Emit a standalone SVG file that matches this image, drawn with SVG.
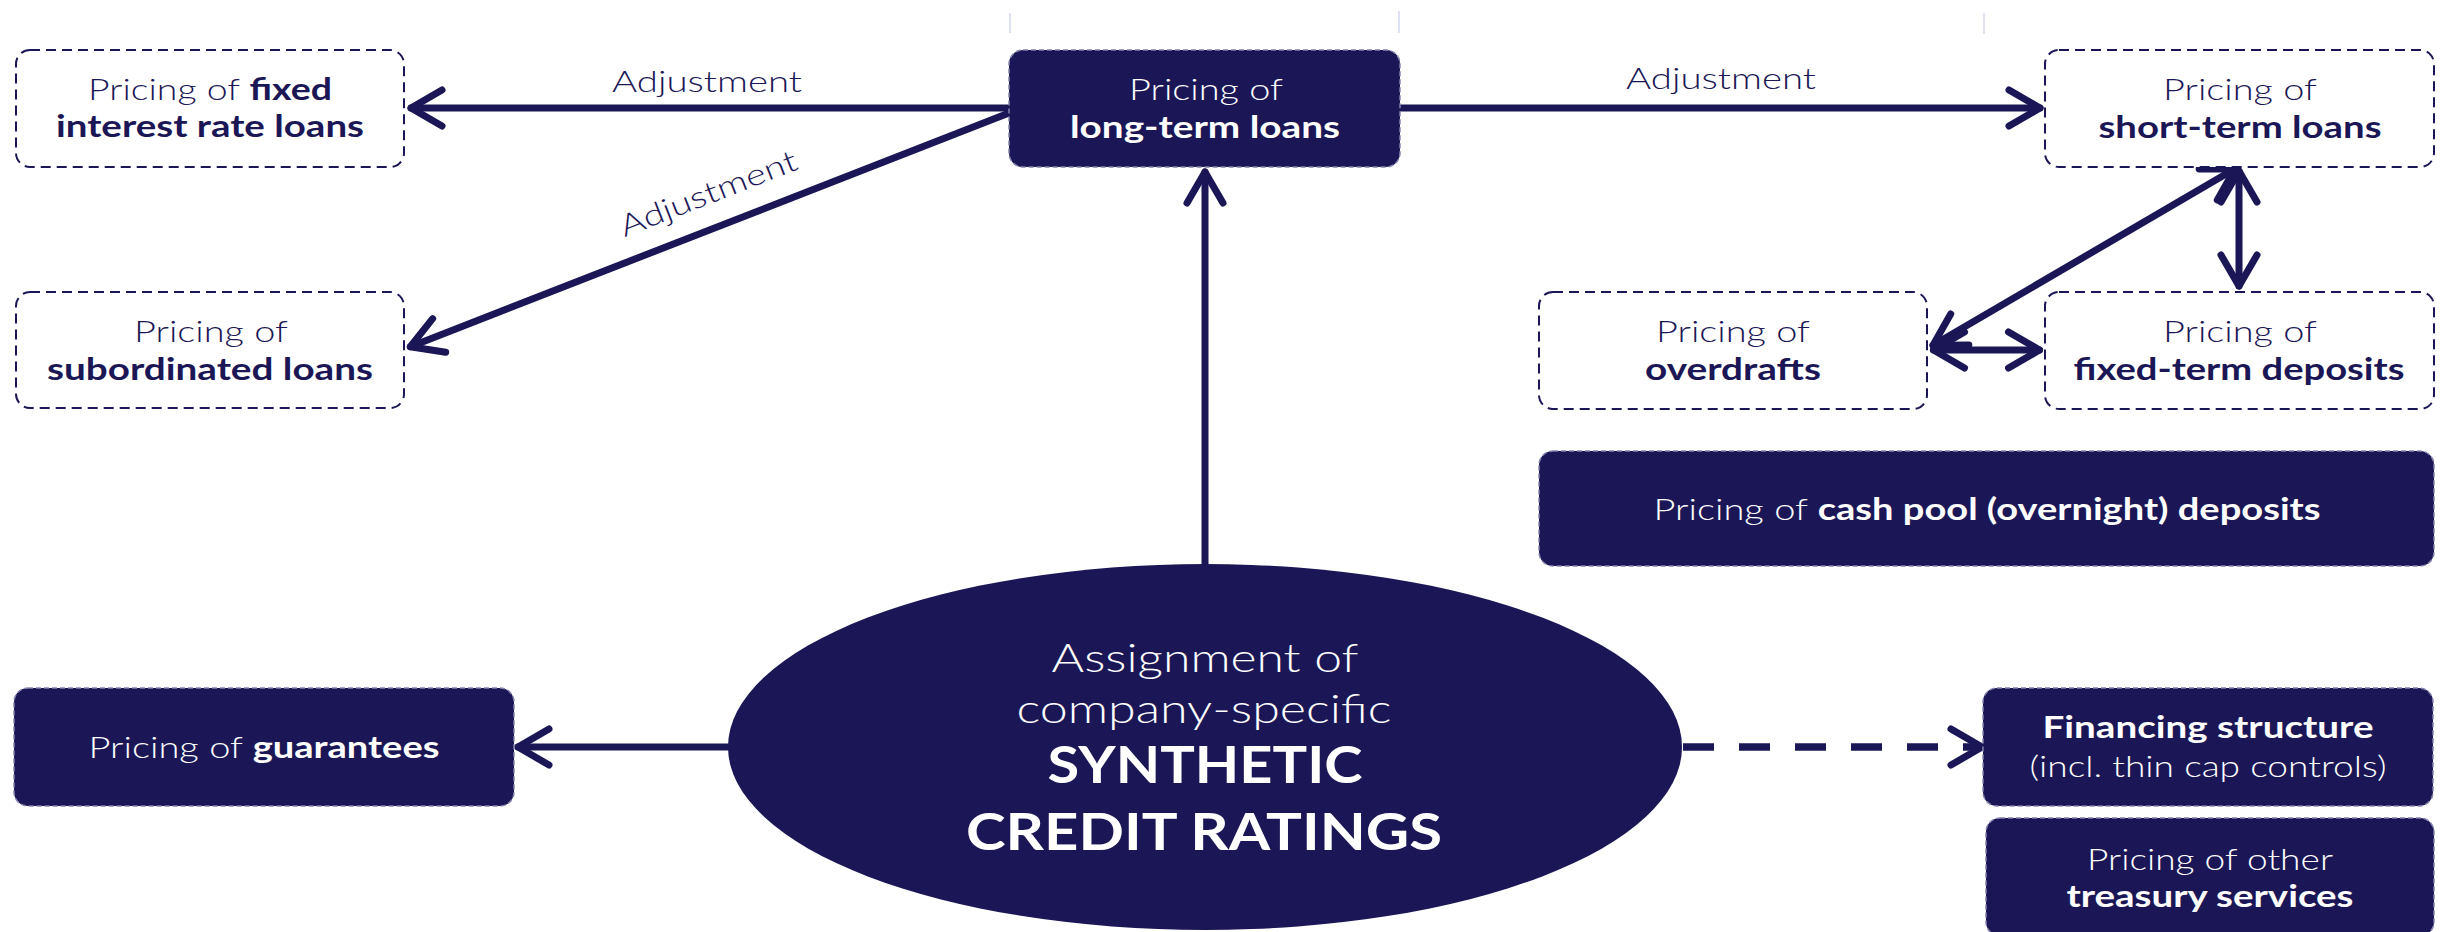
<svg xmlns="http://www.w3.org/2000/svg" width="2445" height="932" viewBox="0 0 2445 932">
  <style>
    .bg { fill: #ffffff; }
    .box-outline { fill: #ffffff; stroke: #1b1756; stroke-width: 2; stroke-dasharray: 10 6; }
    .box-filled { fill: #1b1756; stroke: #8584ad; stroke-width: 1.5; stroke-dasharray: 5 3; }
    .hub { fill: #1b1756; }
    .tick { stroke: #c9cfe9; stroke-width: 1.2; }
    .link { fill: none; stroke: #1b1756; stroke-width: 7; stroke-linecap: round; }
    .link-dash { fill: none; stroke: #1b1756; stroke-width: 7.5; stroke-dasharray: 31 25; stroke-linecap: butt; }
    .head { fill: none; stroke: #1b1756; stroke-width: 7; stroke-linecap: round; stroke-linejoin: round; }
    text { font-family: Lato, "Open Sans", "Liberation Sans", sans-serif; font-size: 30px; text-anchor: middle; }
    .dark { fill: #1b1756; }
    .light { fill: #ffffff; }
    .l { font-weight: 300; }
    .b { font-weight: 700; }
    .hub-sm { font-size: 39px; }
    .hub-lg { font-size: 52px; }
  </style>
  <defs>
    <marker id="chev" markerUnits="userSpaceOnUse" orient="auto-start-reverse" refX="0" refY="0" markerWidth="80" markerHeight="80" viewBox="-40 -40 80 80" overflow="visible">
      <path class="head" d="M-31,-18 L0,0 L-31,18"/>
    </marker>
  </defs>

  <rect class="bg" x="0" y="0" width="2445" height="932"/>

  <!-- faint guide ticks along the top edge -->
  <g id="guides">
    <line class="tick" x1="1010" y1="13" x2="1010" y2="33"/>
    <line class="tick" x1="1399" y1="11" x2="1399" y2="33"/>
    <line class="tick" x1="1984" y1="13" x2="1984" y2="34"/>
  </g>

  <!-- connectors -->
  <g id="connectors">
    <path class="link" d="M1009,108 L411,108" marker-end="url(#chev)"/>
    <path class="link" d="M1009,113 L410.3,346.7" marker-end="url(#chev)"/>
    <path class="link" d="M1400,108 L2040,108" marker-end="url(#chev)"/>
    <path class="link" d="M1205,564 L1205,172" marker-end="url(#chev)"/>
    <path class="link" d="M2239,171 L2239,286" marker-start="url(#chev)" marker-end="url(#chev)"/>
    <path class="link" d="M2235,168.8 L1933,345.2" marker-start="url(#chev)" marker-end="url(#chev)"/>
    <path class="link" d="M1933.5,350 L2039.5,350" marker-start="url(#chev)" marker-end="url(#chev)"/>
    <path class="link" d="M729,747 L518,747" marker-end="url(#chev)"/>
    <path class="link-dash" d="M1683,747 L1978,747"/>
    <path class="head" d="M1951,729 L1982,747 L1951,765"/>
    <text class="dark l" x="707" y="92" textLength="190" lengthAdjust="spacingAndGlyphs">Adjustment</text>
    <text class="dark l" x="1721" y="89" textLength="190" lengthAdjust="spacingAndGlyphs">Adjustment</text>
    <text class="dark l" transform="translate(712,203) rotate(-21.3)" x="0" y="0" textLength="188" lengthAdjust="spacingAndGlyphs">Adjustment</text>
  </g>

  <g id="fixed-rate-loans">
    <rect class="box-outline" x="16" y="50" width="388" height="117" rx="14"/>
    <text class="dark" x="210" y="100" textLength="244" lengthAdjust="spacingAndGlyphs"><tspan class="l">Pricing of </tspan><tspan class="b">fixed</tspan></text>
    <text class="dark b" x="210" y="137" textLength="308" lengthAdjust="spacingAndGlyphs">interest rate loans</text>
  </g>

  <g id="subordinated-loans">
    <rect class="box-outline" x="16" y="292" width="388" height="116" rx="14"/>
    <text class="dark l" x="211" y="342" textLength="154" lengthAdjust="spacingAndGlyphs">Pricing of</text>
    <text class="dark b" x="210" y="380" textLength="326" lengthAdjust="spacingAndGlyphs">subordinated loans</text>
  </g>

  <g id="long-term-loans">
    <rect class="box-filled" x="1009" y="50" width="391" height="117" rx="14"/>
    <text class="light l" x="1206" y="100" textLength="154" lengthAdjust="spacingAndGlyphs">Pricing of</text>
    <text class="light b" x="1205" y="138" textLength="270" lengthAdjust="spacingAndGlyphs">long-term loans</text>
  </g>

  <g id="short-term-loans">
    <rect class="box-outline" x="2045" y="50" width="389" height="117" rx="14"/>
    <text class="dark l" x="2240" y="100" textLength="154" lengthAdjust="spacingAndGlyphs">Pricing of</text>
    <text class="dark b" x="2240" y="138" textLength="283" lengthAdjust="spacingAndGlyphs">short-term loans</text>
  </g>

  <g id="overdrafts">
    <rect class="box-outline" x="1539" y="292" width="388" height="117" rx="14"/>
    <text class="dark l" x="1733" y="342" textLength="154" lengthAdjust="spacingAndGlyphs">Pricing of</text>
    <text class="dark b" x="1733" y="380" textLength="176" lengthAdjust="spacingAndGlyphs">overdrafts</text>
  </g>

  <g id="fixed-term-deposits">
    <rect class="box-outline" x="2045" y="292" width="389" height="117" rx="14"/>
    <text class="dark l" x="2240" y="342" textLength="154" lengthAdjust="spacingAndGlyphs">Pricing of</text>
    <text class="dark b" x="2239" y="380" textLength="331" lengthAdjust="spacingAndGlyphs">fixed-term deposits</text>
  </g>

  <g id="cash-pool-deposits">
    <rect class="box-filled" x="1539" y="451" width="895" height="115" rx="14"/>
    <text class="light" x="1987" y="520" textLength="667" lengthAdjust="spacingAndGlyphs"><tspan class="l">Pricing of </tspan><tspan class="b">cash pool (overnight) deposits</tspan></text>
  </g>

  <g id="guarantees">
    <rect class="box-filled" x="14" y="688" width="500" height="118" rx="14"/>
    <text class="light" x="264" y="758" textLength="351" lengthAdjust="spacingAndGlyphs"><tspan class="l">Pricing of </tspan><tspan class="b">guarantees</tspan></text>
  </g>

  <g id="synthetic-credit-ratings">
    <ellipse class="hub" cx="1205" cy="747" rx="477" ry="183"/>
    <text class="light l hub-sm" x="1205" y="672" textLength="307" lengthAdjust="spacingAndGlyphs">Assignment of</text>
    <text class="light l hub-sm" x="1204" y="723" textLength="375" lengthAdjust="spacingAndGlyphs">company-specific</text>
    <text class="light b hub-lg" x="1205" y="783" textLength="315" lengthAdjust="spacingAndGlyphs">SYNTHETIC</text>
    <text class="light b hub-lg" x="1204" y="850" textLength="476" lengthAdjust="spacingAndGlyphs">CREDIT RATINGS</text>
  </g>

  <g id="financing-structure">
    <rect class="box-filled" x="1983" y="688" width="450" height="118" rx="14"/>
    <text class="light b" x="2208" y="738" textLength="331" lengthAdjust="spacingAndGlyphs">Financing structure</text>
    <text class="light l" x="2208" y="777" textLength="357" lengthAdjust="spacingAndGlyphs">(incl. thin cap controls)</text>
  </g>

  <g id="other-treasury-services">
    <rect class="box-filled" x="1986" y="818" width="448" height="118" rx="14"/>
    <text class="light l" x="2210" y="870" textLength="246" lengthAdjust="spacingAndGlyphs">Pricing of other</text>
    <text class="light b" x="2210" y="907" textLength="287" lengthAdjust="spacingAndGlyphs">treasury services</text>
  </g>
</svg>
